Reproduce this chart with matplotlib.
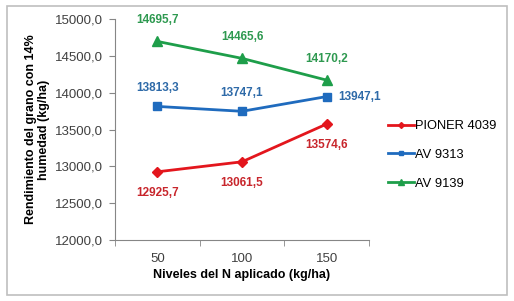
import matplotlib
matplotlib.use('Agg')
import matplotlib.pyplot as plt
from matplotlib.patches import Rectangle
from matplotlib.ticker import FixedLocator

plt.rcParams['font.family'] = ['Liberation Sans', 'DejaVu Sans']

niveles = ['50', '100', '150']
pioner = [12925.7, 13061.5, 13574.6]
av9313 = [13813.3, 13747.1, 13947.1]
av9139 = [14695.7, 14465.6, 14170.2]

fig = plt.figure(figsize=(5.14, 3.01), dpi=100)
fig.patches.append(Rectangle((7 / 514, 6 / 301), 500 / 514, 289 / 301,
                             transform=fig.transFigure, fill=False,
                             edgecolor='#BFBFBF', linewidth=1.2))
ax = fig.add_axes([115 / 514, 61 / 301, 254 / 514, 221 / 301])

x = range(len(niveles))
ax.plot(x, pioner, color='#E3161D', marker='D', markersize=5, linewidth=2,
        label='PIONER 4039')
ax.plot(x, av9313, color='#1F6BBE', marker='s', markersize=6, linewidth=2,
        label='AV 9313')
ax.plot(x, av9139, color='#1E9E4A', marker='^', markersize=7, linewidth=2,
        label='AV 9139')

def fmt(v):
    return f'{v:.1f}'.replace('.', ',')

for i, v in enumerate(av9139):
    ax.annotate(fmt(v), (i, v), xytext=(0, 11), textcoords='offset points',
                ha='center', va='bottom', color='#2E9950', fontsize=8.5,
                fontweight='bold')
for i, v in enumerate(av9313):
    if i < 2:
        ax.annotate(fmt(v), (i, v), xytext=(0, 9), textcoords='offset points',
                    ha='center', va='bottom', color='#2E6AA8', fontsize=8.5,
                    fontweight='bold')
    else:
        ax.annotate(fmt(v), (i, v), xytext=(8, 0), textcoords='offset points',
                    ha='left', va='center', color='#2E6AA8', fontsize=8.5,
                    fontweight='bold')
for i, v in enumerate(pioner):
    ax.annotate(fmt(v), (i, v), xytext=(0, -11), textcoords='offset points',
                ha='center', va='top', color='#C8262C', fontsize=8.5,
                fontweight='bold')

ax.set_xlim(-0.5, 2.5)
ax.set_ylim(12000, 15000)
ax.set_xticks(list(x))
ax.set_xticklabels(niveles)
ax.xaxis.set_minor_locator(FixedLocator([-0.5, 0.5, 1.5, 2.5]))
ax.tick_params(axis='x', which='major', length=0, pad=9, labelsize=9.5,
               colors='#404040')
ax.tick_params(axis='x', which='minor', length=4, direction='out',
               color='#868686')
ax.set_yticks([12000, 12500, 13000, 13500, 14000, 14500, 15000])
ax.set_yticklabels([fmt(v) for v in ax.get_yticks()])
ax.tick_params(axis='y', length=4, direction='out', color='#868686',
               labelsize=9.5, labelcolor='#404040', pad=5)
for s in ['top', 'right']:
    ax.spines[s].set_visible(False)
for s in ['left', 'bottom']:
    ax.spines[s].set_color('#868686')

ax.set_xlabel('Niveles del N aplicado (kg/ha)', fontsize=9,
              fontweight='bold', labelpad=3)
ax.set_ylabel('Rendimiento del grano con 14%\nhumedad (kg/ha)', fontsize=9,
              fontweight='bold', labelpad=3)

ax.legend(loc='center left', bbox_to_anchor=(1.03, 0.385), frameon=False,
          fontsize=9.3, handlelength=2.0, handletextpad=0.05,
          labelspacing=1.3, markerscale=0.6)

fig.savefig('out.png', dpi=100)
